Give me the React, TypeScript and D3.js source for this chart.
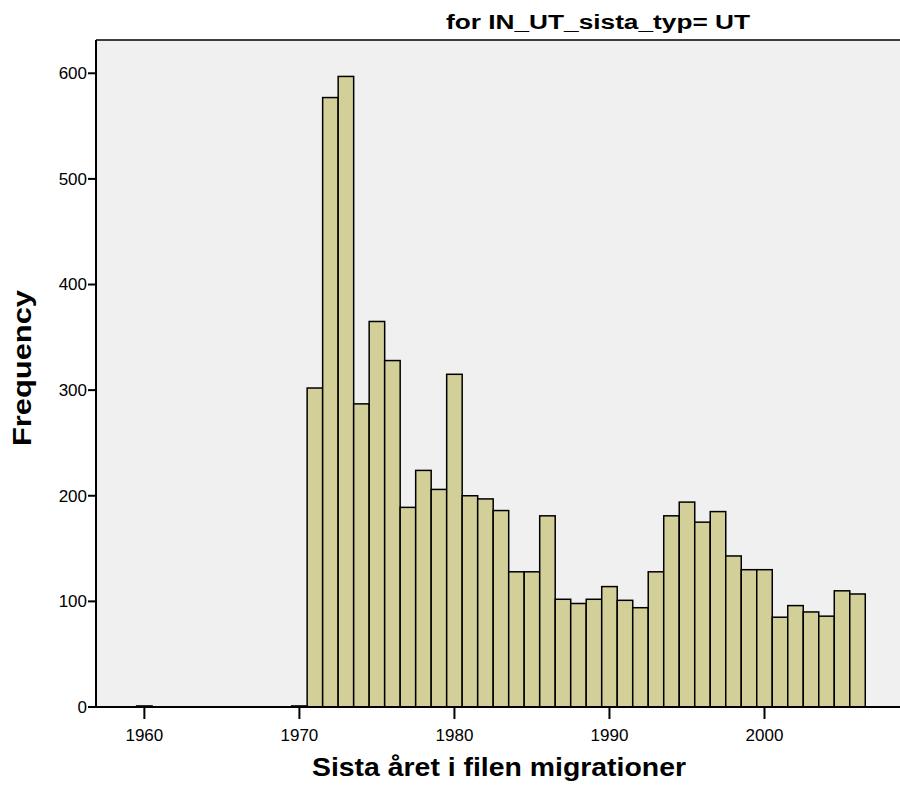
import React from "react";
import * as d3 from "d3";

const years = [1960, 1970, 1971, 1972, 1973, 1974, 1975, 1976, 1977, 1978, 1979, 1980, 1981, 1982, 1983, 1984, 1985, 1986, 1987, 1988, 1989, 1990, 1991, 1992, 1993, 1994, 1995, 1996, 1997, 1998, 1999, 2000, 2001, 2002, 2003, 2004, 2005, 2006];
const counts = [1, 1, 302, 577, 597, 287, 365, 328, 189, 224, 206, 315, 200, 197, 186, 128, 128, 181, 102, 98, 102, 114, 101, 94, 128, 181, 194, 175, 185, 143, 130, 130, 85, 96, 90, 86, 110, 107];
const xTicks = [1960, 1970, 1980, 1990, 2000];
const yTicks = [0, 100, 200, 300, 400, 500, 600];
const titleText = "for IN_UT_sista_typ= UT";
const xLabel = "Sista året i filen migrationer";
const yLabel = "Frequency";

const W = 900;
const H = 788;
const left = 96;
const right = 900;
const top = 40;
const bottom = 707;

export default function App() {
  const x = d3.scaleLinear().domain([1956.88, 2008.74]).range([left, right]);
  const y = d3.scaleLinear().domain([0, 631.5]).range([bottom, top]);
  const font = "Arial, 'Liberation Sans', Helvetica, sans-serif";
  return (
    <svg width={W} height={H} style={{ position: "absolute", left: 0, top: 0, background: "#fff" }} fontFamily={font}>
      <rect x={left} y={top} width={right - left} height={bottom - top} fill="#f0f0f0" />
      {years.map((yr, i) => (
        <rect
          key={yr}
          x={x(yr - 0.5)}
          y={y(counts[i])}
          width={x(yr + 0.5) - x(yr - 0.5)}
          height={bottom - y(counts[i])}
          fill="#d3cf98"
          stroke="#000"
          strokeWidth={1.5}
        />
      ))}
      <line x1={left} x2={right} y1={top} y2={top} stroke="#000" strokeWidth={1.5} />
      <line x1={left} x2={left} y1={top} y2={bottom} stroke="#000" strokeWidth={2} />
      <line x1={left} x2={right} y1={bottom} y2={bottom} stroke="#000" strokeWidth={2} />
      {yTicks.map((t) => (
        <g key={t}>
          <line x1={left - 8} x2={left} y1={y(t)} y2={y(t)} stroke="#000" strokeWidth={2} />
          <text x={left - 9} y={y(t)} dy="0.35em" textAnchor="end" fontSize={17} fill="#000">
            {t}
          </text>
        </g>
      ))}
      {xTicks.map((t) => (
        <g key={t}>
          <line x1={x(t)} x2={x(t)} y1={bottom} y2={bottom + 12} stroke="#000" strokeWidth={2} />
          <text x={x(t)} y={741} textAnchor="middle" fontSize={17} fill="#000">
            {t}
          </text>
        </g>
      ))}
      <text x={598} y={29} textAnchor="middle" fontSize={20} fontWeight="bold" fill="#000" textLength={304} lengthAdjust="spacingAndGlyphs">
        {titleText}
      </text>
      <text x={499} y={776} textAnchor="middle" fontSize={26} fontWeight="bold" fill="#000" textLength={374} lengthAdjust="spacingAndGlyphs">
        {xLabel}
      </text>
      <text transform={`translate(31, 368) rotate(-90)`} textAnchor="middle" fontSize={26} fontWeight="bold" fill="#000" textLength={156} lengthAdjust="spacingAndGlyphs">
        {yLabel}
      </text>
    </svg>
  );
}
